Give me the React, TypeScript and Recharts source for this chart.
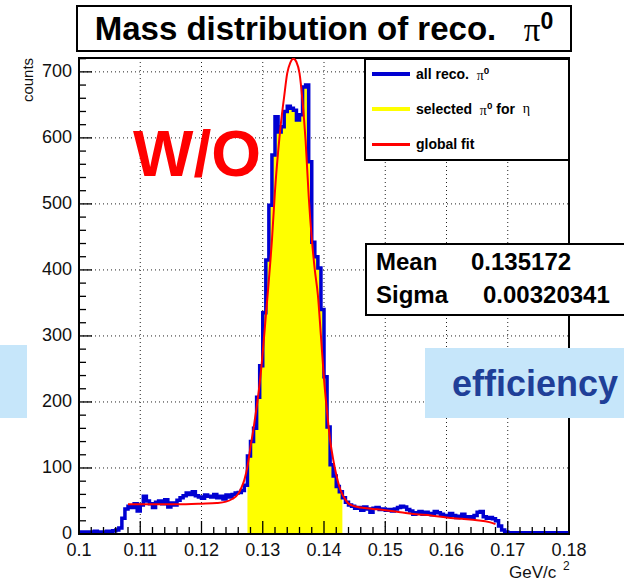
import React from "react";
import {
  ComposedChart,
  Line,
  Area,
  XAxis,
  YAxis,
  CartesianGrid,
  ReferenceArea,
} from "recharts";

// 160 bins of 0.5 MeV/c^2 between 0.1 and 0.18 GeV/c^2
const binStart = 0.1;
const binWidth = 0.0005;

// all reconstructed pi0 candidates, counts per bin
const allRecoCounts = [
  3, 2, 3, 3, 2, 4, 3, 3, 2, 4, 4, 5, 6, 9, 24, 38, 42, 40, 46, 35,
  44, 57, 50, 46, 40, 48, 50, 46, 52, 41, 47, 44, 51, 55, 58, 62, 60, 64, 58, 56,
  54, 59, 57, 56, 60, 55, 57, 53, 59, 56, 60, 62, 63, 66, 74, 118, 140, 160, 207, 255,
  335, 415, 498, 574, 632, 609, 617, 640, 648, 645, 642, 627, 635, 677, 680, 564, 442, 420, 403, 340,
  238, 162, 105, 88, 72, 64, 55, 48, 44, 42, 39, 40, 36, 41, 38, 33, 39, 40, 37, 38,
  36, 37, 35, 38, 40, 42, 41, 37, 35, 30, 32, 34, 30, 33, 31, 29, 34, 32, 30, 28,
  27, 31, 28, 25, 27, 30, 24, 26, 25, 28, 33, 34, 26, 24, 25, 23, 20, 12, 6, 3,
  2, 2, 2, 2, 2, 2, 2, 2, 2, 2, 2, 2, 2, 2, 2, 2, 2, 2, 2, 2,
];

// mass window used for the eta reconstruction (bins 55..85)
const selectedFirstBin = 55;
const selectedLastBin = 85;

// global fit (gaussian + background)
const fitMass = [
  0.108, 0.112, 0.116, 0.12, 0.1225, 0.124, 0.125, 0.126, 0.1265, 0.127,
  0.1275, 0.128, 0.1285, 0.129, 0.1295, 0.13, 0.1305, 0.131, 0.1315, 0.132,
  0.1325, 0.133, 0.1335, 0.134, 0.1345, 0.135, 0.1355, 0.136, 0.1365, 0.137,
  0.1375, 0.138, 0.1385, 0.139, 0.1395, 0.14, 0.1405, 0.141, 0.1415, 0.142,
  0.1425, 0.143, 0.1435, 0.144, 0.145, 0.146, 0.148, 0.15, 0.1525, 0.155,
  0.1575, 0.16, 0.1625, 0.165, 0.167, 0.168,
];
const fitCounts = [
  45, 45, 45, 46, 47, 49, 53, 61, 70, 82,
  102, 132, 160, 192, 228, 275, 330, 385, 445, 520,
  578, 625, 663, 698, 714, 720, 715, 698, 655, 595,
  512, 448, 400, 362, 300, 235, 185, 142, 113, 90,
  72, 60, 52, 46, 42, 40, 38, 36, 33, 30,
  28, 25, 23, 21, 18, 15,
];

const xMajorTicks = [0.1, 0.11, 0.12, 0.13, 0.14, 0.15, 0.16, 0.17, 0.18];
const xTickLabels = ["0.1", "0.11", "0.12", "0.13", "0.14", "0.15", "0.16", "0.17", "0.18"];
const yMajorTicks = [0, 100, 200, 300, 400, 500, 600, 700];
const yTickLabels = ["0", "100", "200", "300", "400", "500", "600", "700"];
const yMax = 721;

const meanValue = "0.135172";
const sigmaValue = "0.00320341";

const BLUE = "#0000d2";
const YELLOW = "#ffff00";
const RED = "#ff0000";
const SANS = "'Liberation Sans', Arial, Helvetica, sans-serif";
const SERIF = "'Liberation Serif', 'DejaVu Serif', serif";

const histPoints = (first: number, last: number) => {
  const pts: { mass: number; counts: number }[] = [];
  for (let i = first; i <= last; i++) {
    pts.push({ mass: binStart + i * binWidth, counts: allRecoCounts[i] });
  }
  pts.push({ mass: binStart + (last + 1) * binWidth, counts: allRecoCounts[last] });
  return pts;
};

const allRecoData = histPoints(0, allRecoCounts.length - 1);
const selectedData = histPoints(selectedFirstBin, selectedLastBin);
const fitData = fitMass.map((m, i) => ({ mass: m, counts: fitCounts[i] }));

// 5 subdivisions between labelled ticks
const xAllTicks: number[] = [];
for (let k = 0; k <= 40; k++) xAllTicks.push(Math.round((0.1 + k * 0.002) * 1e4) / 1e4);
const yAllTicks: number[] = [];
for (let v = 0; v <= 720; v += 20) yAllTicks.push(v);

const majorIndex = (list: number[], v: number) =>
  list.findIndex((t) => Math.abs(t - v) < 1e-7);

const XTick = (props: any) => {
  const { x, y, payload } = props;
  const idx = majorIndex(xMajorTicks, payload.value);
  return (
    <g>
      <line x1={x} x2={x} y1={y} y2={y - (idx >= 0 ? 13 : 7)} stroke="#000" strokeWidth={1.3} />
      {idx >= 0 && (
        <text x={x} y={y + 22} textAnchor="middle" fontSize={18} fill="#111" fontFamily={SANS}>
          {xTickLabels[idx]}
        </text>
      )}
    </g>
  );
};

const YTick = (props: any) => {
  const { x, y, payload } = props;
  const idx = majorIndex(yMajorTicks, payload.value);
  return (
    <g>
      <line x1={x} x2={x + (idx >= 0 ? 13 : 7)} y1={y} y2={y} stroke="#000" strokeWidth={1.3} />
      {idx >= 0 && (
        <text x={x - 7} y={y + 5} textAnchor="end" fontSize={18} fill="#111" fontFamily={SANS}>
          {yTickLabels[idx]}
        </text>
      )}
    </g>
  );
};

const Pi0 = () => (
  <span>
    <span style={{ fontFamily: SERIF, fontWeight: "normal" }}>π</span>
    <sup style={{ fontSize: "0.7em", fontWeight: "bold" }}>0</sup>
  </span>
);

const legendRows = [
  { color: BLUE, width: 4, label: <>all reco.&nbsp;&nbsp;<Pi0 /></> },
  {
    color: YELLOW,
    width: 4,
    label: (
      <>
        selected&nbsp;&nbsp;<Pi0 />&nbsp;for&nbsp;&nbsp;
        <span style={{ fontFamily: SERIF, fontWeight: "normal" }}>η</span>
      </>
    ),
  },
  { color: RED, width: 3, label: <>global fit</> },
];

export default function App() {
  return (
    <div
      style={{
        position: "absolute",
        left: 0,
        top: 0,
        width: 624,
        height: 584,
        overflow: "hidden",
        background: "#fff",
        fontFamily: SANS,
      }}
    >
      <ComposedChart width={624} height={584} margin={{ top: 58, right: 55, bottom: 0, left: 0 }}>
        <CartesianGrid
          stroke="#222"
          strokeDasharray="1 3"
          verticalValues={[0.11, 0.12, 0.13, 0.14, 0.15, 0.16, 0.17]}
          horizontalValues={[100, 200, 300, 400, 500, 600, 700]}
        />
        <XAxis
          dataKey="mass"
          type="number"
          domain={[0.1, 0.18]}
          allowDataOverflow
          ticks={xAllTicks}
          interval={0}
          tick={XTick}
          tickLine={false}
          tickSize={0}
          tickMargin={0}
          height={50}
          axisLine={{ stroke: "#000", strokeWidth: 2 }}
        />
        <YAxis
          type="number"
          domain={[0, yMax]}
          allowDataOverflow
          ticks={yAllTicks}
          interval={0}
          tick={YTick}
          tickLine={false}
          tickSize={0}
          tickMargin={0}
          width={79}
          axisLine={{ stroke: "#000", strokeWidth: 2 }}
        />
        <Area
          data={selectedData}
          dataKey="counts"
          type="stepAfter"
          fill={YELLOW}
          fillOpacity={1}
          stroke="none"
          isAnimationActive={false}
        />
        <Line
          data={allRecoData}
          dataKey="counts"
          type="stepAfter"
          stroke={BLUE}
          strokeWidth={3.5}
          dot={false}
          isAnimationActive={false}
        />
        <Line
          data={fitData}
          dataKey="counts"
          type="monotone"
          stroke={RED}
          strokeWidth={2}
          dot={false}
          isAnimationActive={false}
        />
        <ReferenceArea
          x1={0.1}
          x2={0.18}
          y1={0}
          y2={yMax}
          fill="none"
          stroke="#000"
          strokeWidth={2}
          ifOverflow="visible"
        />
      </ComposedChart>

      {/* title */}
      <div
        style={{
          position: "absolute",
          left: 76,
          top: 5,
          width: 492,
          height: 43,
          border: "2px solid #000",
          background: "#fff",
          display: "flex",
          alignItems: "center",
          justifyContent: "center",
          fontWeight: "bold",
          fontSize: 33,
          color: "#000",
          whiteSpace: "nowrap",
        }}
      >
        Mass distribution of reco.&nbsp;&nbsp;&nbsp;<Pi0 />
      </div>

      {/* legend */}
      <div
        style={{
          position: "absolute",
          left: 364,
          top: 58,
          width: 202,
          height: 99,
          border: "2px solid #000",
          background: "#fff",
        }}
      >
        {legendRows.map((r, i) => (
          <div
            key={i}
            style={{
              position: "absolute",
              left: 6,
              top: 3 + i * 35,
              height: 22,
              display: "flex",
              alignItems: "center",
              whiteSpace: "nowrap",
              fontWeight: "bold",
              fontSize: 14,
              color: "#000",
            }}
          >
            <span style={{ display: "inline-block", width: 38, height: r.width, background: r.color, marginRight: 6 }} />
            {r.label}
          </div>
        ))}
      </div>

      {/* fit parameters */}
      <div
        style={{
          position: "absolute",
          left: 365,
          top: 243,
          width: 300,
          height: 69,
          border: "2px solid #000",
          background: "#fff",
          fontWeight: "bold",
          fontSize: 24,
          color: "#000",
        }}
      >
        <span style={{ position: "absolute", left: 9, top: 3 }}>Mean</span>
        <span style={{ position: "absolute", left: 104, top: 3 }}>{meanValue}</span>
        <span style={{ position: "absolute", left: 9, top: 36 }}>Sigma</span>
        <span style={{ position: "absolute", left: 116, top: 36 }}>{sigmaValue}</span>
      </div>

      {/* axis titles */}
      <div
        style={{
          position: "absolute",
          left: 27,
          top: 80,
          fontSize: 15,
          lineHeight: 1,
          color: "#111",
          transform: "translate(-50%, -50%) rotate(-90deg)",
          whiteSpace: "nowrap",
        }}
      >
        counts
      </div>
      <div
        style={{
          position: "absolute",
          left: 509,
          top: 564,
          fontSize: 17,
          lineHeight: 1,
          color: "#111",
          whiteSpace: "nowrap",
        }}
      >
        GeV/c
      </div>
      <div style={{ position: "absolute", left: 563, top: 560, fontSize: 12, lineHeight: 1, color: "#111" }}>2</div>

      {/* slide annotations */}
      <div style={{ position: "absolute", left: 0, top: 345, width: 27, height: 73, background: "#c6e6fa" }} />
      <div
        style={{
          position: "absolute",
          left: 425,
          top: 348,
          width: 199,
          height: 70,
          background: "#c6e6fa",
          color: "#1f3f98",
          fontWeight: "bold",
          fontSize: 36,
          lineHeight: 1,
          whiteSpace: "nowrap",
        }}
      >
        <span style={{ position: "absolute", left: 27, top: 18 }}>efficiency</span>
      </div>
      <div
        style={{
          position: "absolute",
          left: 133,
          top: 117,
          color: RED,
          fontWeight: "bold",
          fontSize: 64,
          whiteSpace: "nowrap",
        }}
      >
        W/O
      </div>
    </div>
  );
}
